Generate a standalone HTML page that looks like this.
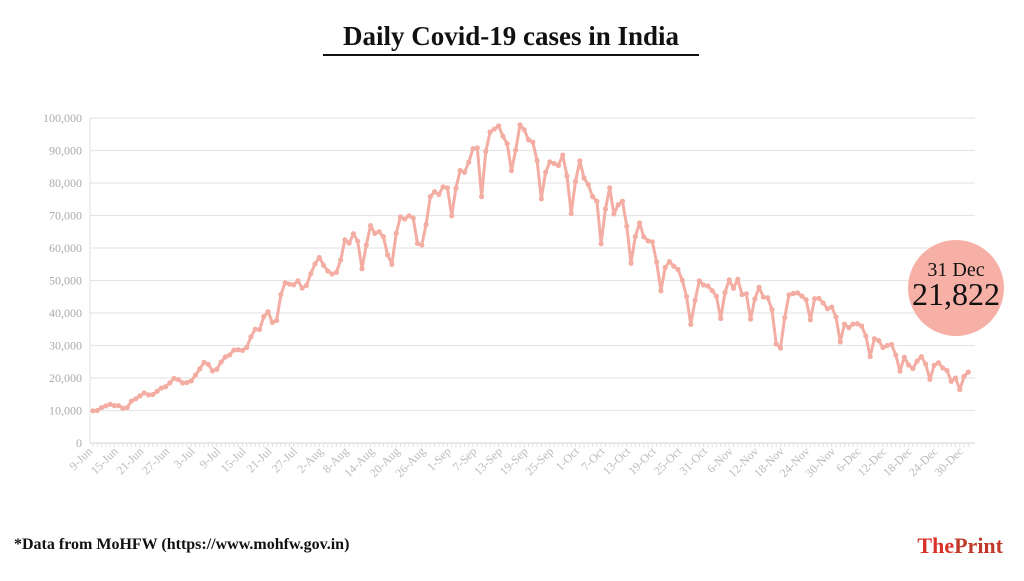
<!DOCTYPE html>
<html><head><meta charset="utf-8"><style>
body{margin:0;background:#fff;width:1024px;height:576px;overflow:hidden;font-family:"Liberation Serif",serif}
</style></head><body>
<svg id="s" width="1024" height="576" xmlns="http://www.w3.org/2000/svg">
<text x="511" y="45" text-anchor="middle" font-family="Liberation Serif" font-weight="bold" font-size="27" fill="#111">Daily Covid-19 cases in India</text>
<line x1="323" y1="55" x2="699" y2="55" stroke="#111" stroke-width="2"/>
<g id="grid"></g>
<g id="lab"></g>
<polyline id="pl" fill="none" stroke="#f3ada3" stroke-width="3" stroke-linejoin="round"/>
<g id="dots" fill="#f3ada3"></g>
<circle cx="956" cy="288" r="48" fill="#f6b0a6"/>
<text x="956" y="276" text-anchor="middle" font-size="20" fill="#111">31 Dec</text>
<text x="956" y="305" text-anchor="middle" font-size="32" fill="#111">21,822</text>
<text x="14" y="549" font-size="16" font-weight="bold" fill="#111">*Data from MoHFW (https://www.mohfw.gov.in)</text>
<text x="1003" y="553" text-anchor="end" font-size="22" font-weight="bold" fill="#d8322b">The<tspan fill="#c0392b">Print</tspan></text>
</svg>
<script>
var d=[9.9,10.0,10.9,11.4,11.9,11.5,11.5,10.7,10.9,12.9,13.6,14.5,15.4,14.8,14.9,15.9,16.9,17.3,18.5,19.9,19.5,18.5,18.6,19.1,20.9,22.8,24.8,24.2,22.2,22.7,24.9,26.5,27.1,28.6,28.7,28.5,29.4,32.7,35.0,34.9,38.9,40.4,37.1,37.7,45.7,49.3,48.9,48.7,49.9,47.7,48.5,52.1,55.1,57.1,54.7,52.9,52.0,52.5,56.3,62.5,61.5,64.4,62.1,53.6,60.9,66.9,64.5,65.0,63.5,57.9,55.0,64.5,69.6,68.9,69.9,69.2,61.4,60.9,67.2,75.8,77.3,76.5,78.8,78.5,69.9,78.4,83.9,83.3,86.4,90.6,90.8,75.8,89.7,95.7,96.6,97.6,94.4,92.1,83.8,90.1,97.9,96.4,93.3,92.6,86.9,75.1,83.3,86.5,86.0,85.4,88.6,82.2,70.6,80.5,86.8,81.5,79.5,75.8,74.4,61.3,72.0,78.5,70.5,73.3,74.4,66.7,55.3,63.5,67.7,63.4,62.2,61.9,55.7,46.8,54.0,55.8,54.4,53.4,50.1,45.1,36.5,43.9,49.9,48.6,48.3,46.9,45.2,38.3,46.3,50.2,47.6,50.4,45.7,45.9,38.1,44.3,47.9,44.9,44.7,41.1,30.5,29.2,38.6,45.6,46.0,46.2,45.2,44.1,37.9,44.4,44.5,43.1,41.3,41.8,38.8,31.1,36.6,35.5,36.6,36.7,36.0,32.9,26.6,32.1,31.5,29.4,30.0,30.3,27.1,22.1,26.4,24.0,22.9,25.2,26.6,24.3,19.6,23.9,24.7,23.1,22.3,19.0,20.0,16.4,20.5,21.8];
var NS="http://www.w3.org/2000/svg";
function el(t,a,p,txt){var e=document.createElementNS(NS,t);for(var k in a)e.setAttribute(k,a[k]);if(txt)e.textContent=txt;document.getElementById(p).appendChild(e);return e;}
var X=function(i){return 93+i*4.27},Y=function(v){return 443-v*3.25};
for(var k=0;k<=10;k++){var y=Y(k*10);el('line',{x1:90,x2:975,y1:y,y2:y,stroke:k?'#e6e6e6':'#ddd','stroke-width':1.2},'grid');
el('text',{x:82,y:y+4,'text-anchor':'end','font-size':12,fill:'#aaa','font-family':'Liberation Serif'},'lab',k?(k*10)+',000':'0');}
el('line',{x1:90,x2:90,y1:118,y2:443,stroke:'#e6e6e6','stroke-width':1.2},'grid');
for(var i=0;i<206;i++)el('line',{x1:X(i),x2:X(i),y1:443,y2:447,stroke:'#e0e0e0','stroke-width':1},'grid');
var mon=['Jan','Feb','Mar','Apr','May','Jun','Jul','Aug','Sep','Oct','Nov','Dec'];
for(var i=0;i<=204;i+=6){var dt=new Date(2020,5,9+i);var t=dt.getDate()+'-'+mon[dt.getMonth()];var x=X(i);
el('text',{x:x,y:452,'text-anchor':'end','font-size':12,fill:'#bbb','font-family':'Liberation Serif',transform:'rotate(-45 '+x+' 452)'},'lab',t);}
var pts=d.map(function(v,i){return X(i).toFixed(1)+','+Y(v).toFixed(1)}).join(' ');
document.getElementById('pl').setAttribute('points',pts);
d.forEach(function(v,i){el('circle',{cx:X(i),cy:Y(v),r:2.6},'dots');});
</script>
</body></html>
